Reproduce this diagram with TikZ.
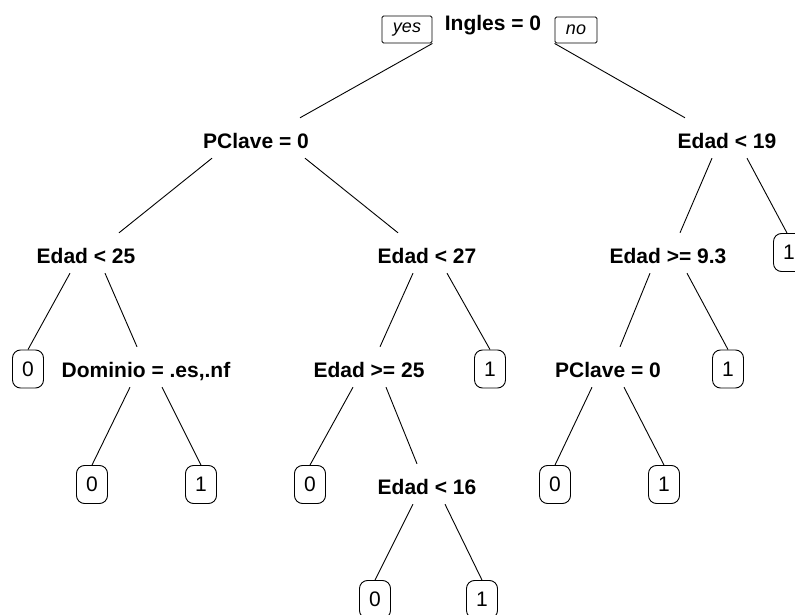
\documentclass[tikz,border=0pt]{standalone}
\usepackage{fontspec}
\setmainfont{Liberation Sans}
\begin{document}
\begin{tikzpicture}[x=1pt,y=1pt,
  split/.style={font=\fontsize{21}{21}\selectfont\bfseries, anchor=base,
    inner sep=0pt, text height=30.5pt, text depth=9.5pt},
  leaf/.style={draw, rectangle, rounded corners=8pt,
    minimum width=31pt, minimum height=38pt, inner sep=0pt,
    font=\fontsize{21}{21}\selectfont, line width=0.9pt},
  tag/.style={draw, rounded corners=1.5pt, inner sep=0pt, line width=0.9pt,
    font=\fontsize{18}{18}\selectfont\itshape},
  branch/.style={line width=0.9pt}]
\useasboundingbox (0,0) rectangle (795,614);

% split labels
\node[split] (root) at (493,583.5) {Ingles = 0};
\node[tag, minimum width=50pt, minimum height=27pt] (yes) at (407,584.5) {yes};
\node[tag, minimum width=42pt, minimum height=26pt] (no) at (576,584) {no};

\node[split] (pc)   at (256,465.5) {PClave = 0};
\node[split] (e19)  at (727,465.5) {Edad < 19};
\node[split] (e25)  at (86,350.5)  {Edad < 25};
\node[split] (e27)  at (427,350.5) {Edad < 27};
\node[split] (e93)  at (668,350.5) {Edad >= 9.3};
\node[split] (dom)  at (146,236.5) {Dominio = .es,.nf};
\node[split] (ge25) at (369,236.5) {Edad >= 25};
\node[split] (pc2)  at (608,236.5) {PClave = 0};
\node[split] (e16)  at (427,119.5) {Edad < 16};

% leaves
\node[leaf] (la) at (789,361.5) {1};
\node[leaf] (lb) at (28,245)    {0};
\node[leaf] (lc) at (490,245)   {1};
\node[leaf] (ld) at (728,245)   {1};
\node[leaf] (le) at (92,129.5)  {0};
\node[leaf] (lf) at (201,129.5) {1};
\node[leaf] (lg) at (310,129.5) {0};
\node[leaf] (lh) at (555,129.5) {0};
\node[leaf] (li) at (664,129.5) {1};
\node[leaf] (lj) at (375,14.5)  {0};
\node[leaf] (lk) at (482,14.5)  {1};

% branches
\draw[branch] (yes.south east) -- ([xshift=44pt]pc.north);
\draw[branch] (no.south west) -- ([xshift=-42pt]e19.north);

\draw[branch] ([xshift=-44pt]pc.south) -- ([xshift=33pt]e25.north);
\draw[branch] ([xshift=49pt]pc.south) -- ([xshift=-29pt]e27.north);

\draw[branch] ([xshift=-15pt]e19.south) -- ([xshift=12pt]e93.north);
\draw[branch] ([xshift=20pt]e19.south) -- ([xshift=-2pt]la.north);

\draw[branch] ([xshift=-16pt]e25.south) -- (lb.north);
\draw[branch] ([xshift=19pt]e25.south) -- ([xshift=-9pt]dom.north);

\draw[branch] ([xshift=-14pt]e27.south) -- ([xshift=11pt]ge25.north);
\draw[branch] ([xshift=20pt]e27.south) -- (lc.north);

\draw[branch] ([xshift=-18pt]e93.south) -- ([xshift=12pt]pc2.north);
\draw[branch] ([xshift=19pt]e93.south) -- (ld.north);

\draw[branch] ([xshift=-16pt]dom.south) -- (le.north);
\draw[branch] ([xshift=16pt]dom.south) -- (lf.north);

\draw[branch] ([xshift=-16pt]ge25.south) -- (lg.north);
\draw[branch] ([xshift=17pt]ge25.south) -- ([xshift=-10pt]e16.north);

\draw[branch] ([xshift=-16pt]pc2.south) -- (lh.north);
\draw[branch] ([xshift=16pt]pc2.south) -- (li.north);

\draw[branch] ([xshift=-14pt]e16.south) -- (lj.north);
\draw[branch] ([xshift=18pt]e16.south) -- (lk.north);
\end{tikzpicture}
\end{document}
